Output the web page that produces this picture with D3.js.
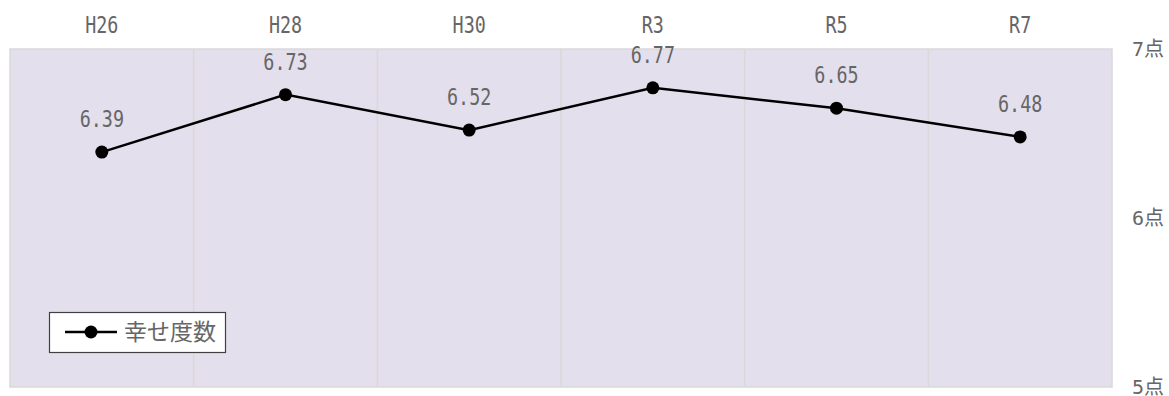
<!DOCTYPE html>
<html><head><meta charset="utf-8">
<script src="https://cdn.jsdelivr.net/npm/d3@7"></script>
<style>
body{margin:0;background:#fff;}
text{font-family:"DejaVu Sans Mono","Noto Sans CJK JP",monospace;fill:#666;}
</style></head><body>
<svg id="c" width="1169" height="396"></svg>
<script>
const categories = ["H26","H28","H30","R3","R5","R7"];
const values = [6.39,6.73,6.52,6.77,6.65,6.48];
const yTicks = [5,6,7];
const yTickLabels = ["5点","6点","7点"];
const seriesName = "幸せ度数";

const svg = d3.select("#c");
const L=10,R=1112,T=49,B=387;
const x = d3.scaleBand().domain(categories).range([L,R]);
const y = d3.scaleLinear().domain([5,7]).range([B,T]);

svg.append("rect").attr("x",L).attr("y",T).attr("width",R-L).attr("height",B-T)
  .attr("fill","#e4dfec").attr("stroke","#d9d9d9").attr("stroke-width",1.5);

svg.selectAll("line.g").data(categories.slice(1)).enter().append("line")
  .attr("x1",d=>x(d)).attr("x2",d=>x(d)).attr("y1",T).attr("y2",B)
  .attr("stroke","#d9d9d9").attr("stroke-width",1.5);

const xAxis = d3.axisTop(x).tickSize(0).tickPadding(0);
const gx = svg.append("g").attr("transform",`translate(0,${T})`).call(xAxis);
gx.select(".domain").remove();
gx.selectAll("text").attr("y",0).attr("dy",0)
  .attr("transform","translate(0,-16) scale(0.8,1)")
  .style("font-size","23px").style("font-family","'DejaVu Sans Mono'").attr("fill","#666");

const yAxis = d3.axisRight(y).tickValues(yTicks).tickSize(0).tickPadding(0)
  .tickFormat(d=>yTickLabels[yTicks.indexOf(d)]);
const gy = svg.append("g").attr("transform",`translate(${R+20},0)`).call(yAxis);
gy.select(".domain").remove();
gy.selectAll("text").attr("x",0).attr("dy","0.3em")
  .style("font-size","20px").style("font-family","'DejaVu Sans Mono','Noto Sans CJK JP'")
  .attr("fill","#666");

const cx = d=>x(d)+x.bandwidth()/2;
const data = categories.map((c,i)=>({c,v:values[i]}));
svg.append("path").datum(data)
  .attr("d",d3.line().x(d=>cx(d.c)).y(d=>y(d.v)))
  .attr("fill","none").attr("stroke","#000").attr("stroke-width",2.5);
svg.selectAll("circle.p").data(data).enter().append("circle")
  .attr("cx",d=>cx(d.c)).attr("cy",d=>y(d.v)).attr("r",6.5).attr("fill","#000");
svg.selectAll("text.lbl").data(data).enter().append("text")
  .attr("transform",d=>`translate(${cx(d.c)},${y(d.v)-25}) scale(0.8,1)`)
  .attr("text-anchor","middle")
  .style("font-size","23px").text(d=>d.v.toFixed(2));

const lg = svg.append("g");
lg.append("rect").attr("x",49.5).attr("y",312.5).attr("width",176).attr("height",40)
  .attr("fill","#fff").attr("stroke","#404040").attr("stroke-width",1.2);
lg.append("line").attr("x1",65).attr("x2",117).attr("y1",332).attr("y2",332)
  .attr("stroke","#000").attr("stroke-width",2.5);
lg.append("circle").attr("cx",91).attr("cy",332).attr("r",6.5).attr("fill","#000");
lg.append("text").attr("x",124).attr("y",332).attr("dy","0.36em")
  .style("font-family","'Noto Sans CJK JP'")
  .style("font-size","23px").text(seriesName);
</script>
</body></html>
